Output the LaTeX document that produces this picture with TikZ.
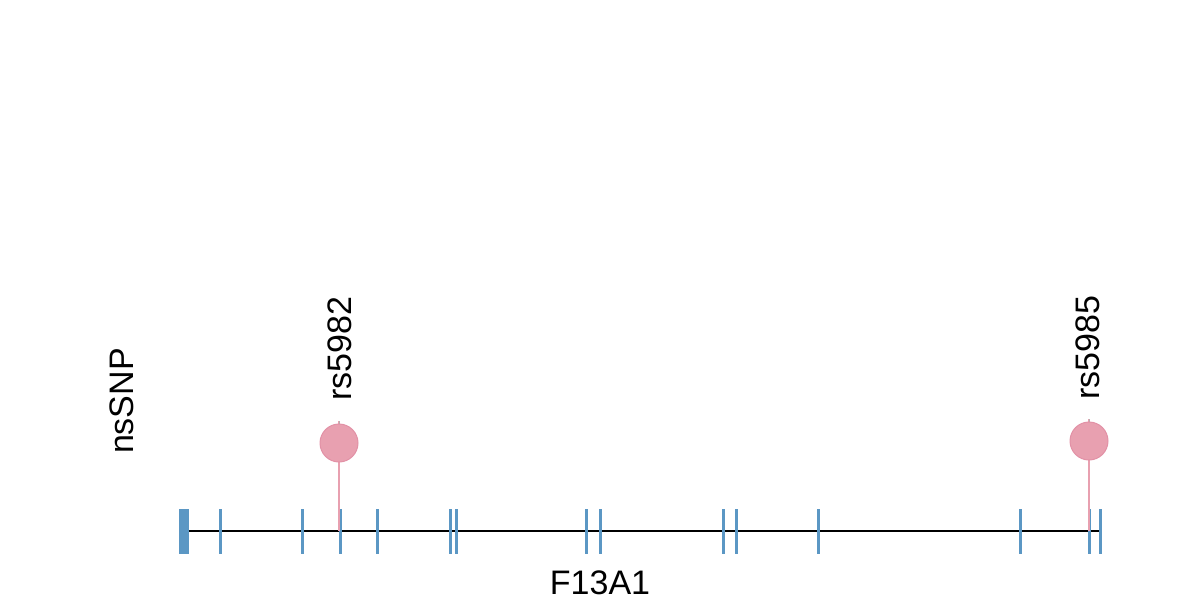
\documentclass[tikz,border=0pt]{standalone}
\usepackage{fontspec}
\setmainfont{Liberation Sans}
\definecolor{exonblue}{HTML}{5B97C4}
\definecolor{snppink}{HTML}{E8A0B0}
\definecolor{snpedge}{HTML}{E291A6}
\begin{document}
\begin{tikzpicture}[x=0.5pt,y=-0.5pt,
  exontick/.style={draw=exonblue,line width=1.5pt},
  backbone/.style={draw=black,line width=1pt},
  lolli/.style={circle,fill=snppink,draw=snpedge,line width=0.5pt,minimum size=19pt,inner sep=0pt},
  stem/.style={draw=snppink,line width=1pt},
  lab/.style={font=\fontsize{17}{20}\selectfont,text=black,inner sep=0pt}]
\useasboundingbox (0,0) rectangle (1200,600);
% backbone
\coordinate (bstart) at (185,531);
\coordinate (bend) at (1100,531);
\draw[backbone] (bstart) -- (bend);
% first exon block
\fill[exonblue] (179,509) rectangle (189,554);
% exon ticks
\foreach \x in {220,302,340,377,450,456,586,600,723,736,818,1020,1089,1100}{
  \draw[exontick] (\x,509) -- (\x,554);
}
% lollipops
\coordinate (s1base) at (339,531);
\coordinate (s1top) at (339,421);
\coordinate (s2base) at (1089,531);
\coordinate (s2top) at (1089,419);
\draw[stem] (s1base) -- (s1top);
\draw[stem] (s2base) -- (s2top);
\draw[gray!60,line width=0.5pt] (339,432) -- (s1top);
\draw[gray!60,line width=0.5pt] (1089,430) -- (s2top);
\node[lolli] (snp1) at (339,443) {};
\node[lolli] (snp2) at (1089,441) {};
% labels
\node[lab,rotate=90,anchor=west] (l1) at (340,401) {rs5982};
\node[lab,rotate=90,anchor=west] (l2) at (1088,400) {rs5985};
\node[lab,rotate=90] (track) at (122,401) {nsSNP};
\node[lab] (gene) at (600,583) {F13A1};
\end{tikzpicture}
\end{document}
